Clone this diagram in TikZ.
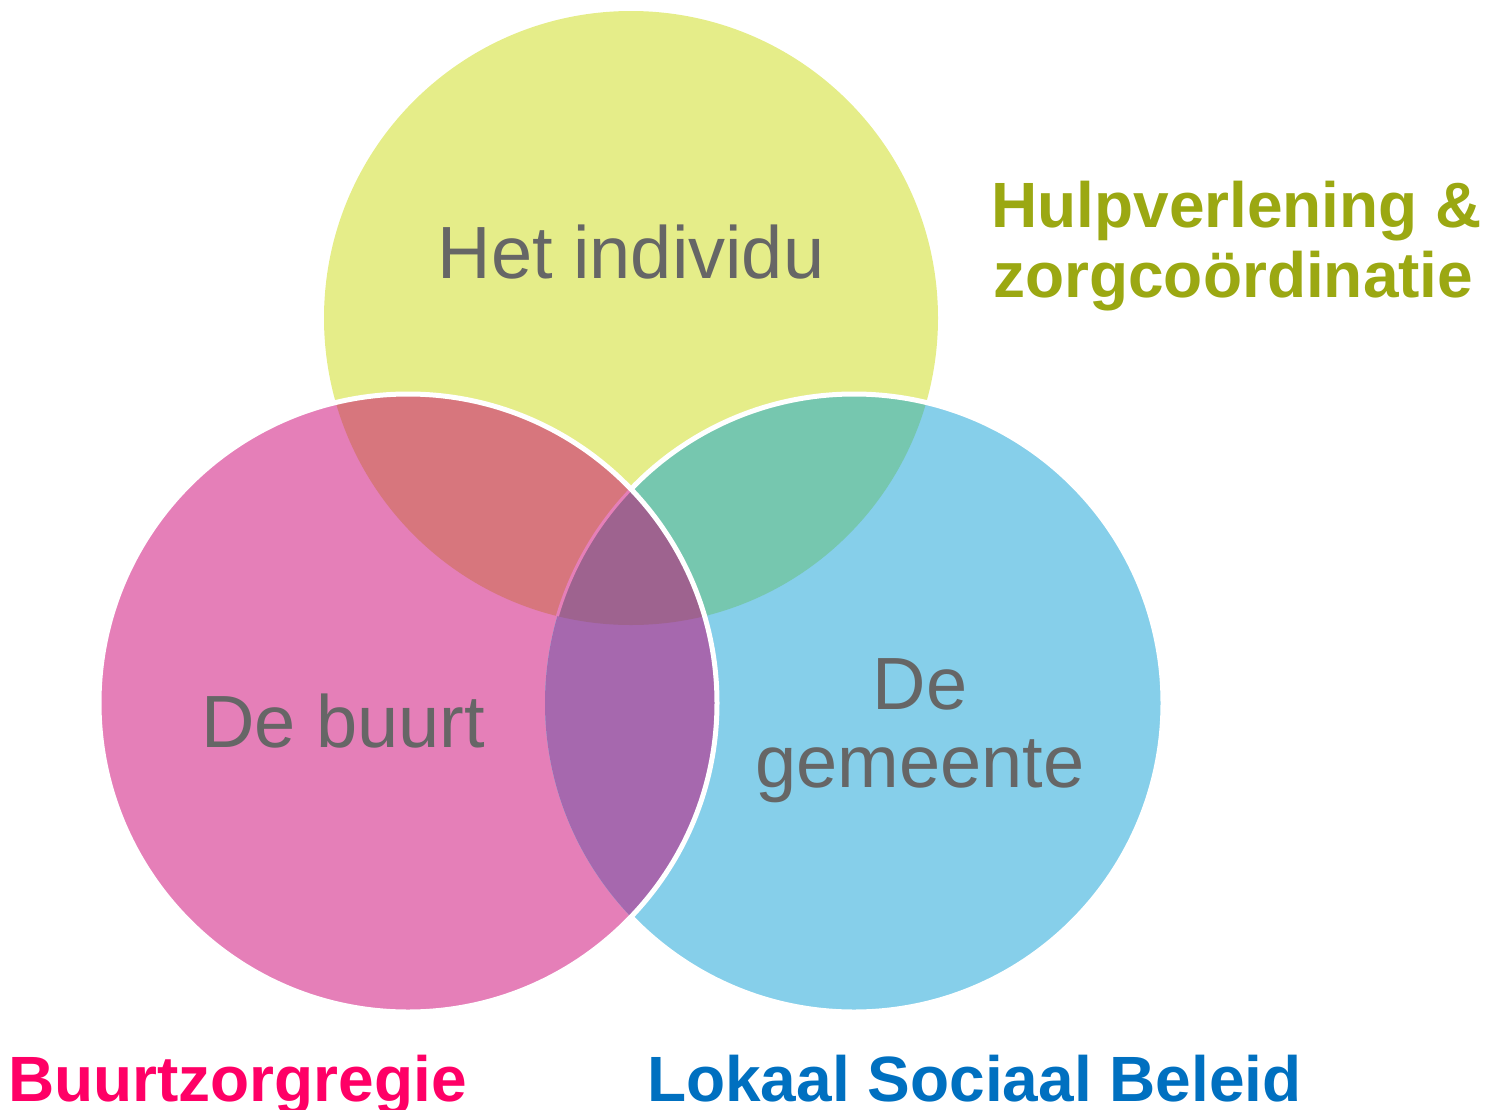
\documentclass[tikz,border=0pt]{standalone}
\usepackage{fontspec}
\setmainfont{Liberation Sans}
\definecolor{cY}{HTML}{E5ED89}
\definecolor{cP}{HTML}{E57FB8}
\definecolor{cB}{HTML}{86CFEA}
\definecolor{cYP}{HTML}{D7767D}
\definecolor{cYB}{HTML}{76C7AF}
\definecolor{cPB}{HTML}{A668AE}
\definecolor{cYPB}{HTML}{9E638F}
\definecolor{cGray}{HTML}{666666}
\definecolor{cOl}{HTML}{9BA812}
\definecolor{cMg}{HTML}{FF0066}
\definecolor{cBl}{HTML}{0070C0}
\begin{document}
\begin{tikzpicture}[x=1pt,y=-1pt,
  lbl/.style={text=cGray,font=\fontsize{74}{78}\selectfont,inner sep=0pt},
  caption/.style={font=\bfseries\fontsize{64}{70}\selectfont,inner sep=0pt,anchor=base west},
  rim/.style={white,line width=5pt}]
\useasboundingbox (0,0) rectangle (1489,1109);
\def\R{307pt}
\def\Rr{309pt}
\coordinate (Y) at (631,318);
\coordinate (P) at (408,703);
\coordinate (B) at (854,703);
% base fills
\fill[cY] (Y) circle[radius=\R];
\fill[cP] (P) circle[radius=\Rr];
\fill[cB] (B) circle[radius=\Rr];
% overlaps
\begin{scope}
  \clip (Y) circle[radius=\R];
  \fill[cYP] (P) circle[radius=\Rr];
  \fill[cYB] (B) circle[radius=\Rr];
\end{scope}
\begin{scope}
  \clip (P) circle[radius=\Rr];
  \fill[cPB] (B) circle[radius=\Rr];
  \clip (Y) circle[radius=\R];
  \fill[cYPB] (B) circle[radius=\Rr];
\end{scope}
% blue rim outside pink
\begin{scope}[even odd rule]
  \clip (-20,-20) rectangle (1510,1130) (P) circle[radius=\Rr];
  \draw[rim] (B) circle[radius=\Rr];
\end{scope}
% faint rim of blue inside pink and yellow
\begin{scope}
  \clip (P) circle[radius=\Rr];
  \clip (Y) circle[radius=\R];
  \draw[cP,line width=3pt] (B) circle[radius=\Rr];
\end{scope}
% pink rim
\draw[rim] (P) circle[radius=\Rr];
% labels
\node[lbl,anchor=base] (ind) at (631,278) {Het individu};
\node[lbl,anchor=base] (buurt) at (343,747) {De buurt};
\node[lbl,anchor=base] (gem1) at (920,709) {De};
\node[lbl,anchor=base] (gem2) at (920,787) {gemeente};
\node[caption,text=cOl] (hulp1) at (991,227) {Hulpverlening \&};
\node[caption,text=cOl] (hulp2) at (993,297) {zorgcoördinatie};
\node[caption,text=cMg] (bzr) at (8,1101) {Buurtzorgregie};
\node[caption,text=cBl] (lsb) at (647,1101) {Lokaal Sociaal Beleid};
\end{tikzpicture}
\end{document}
